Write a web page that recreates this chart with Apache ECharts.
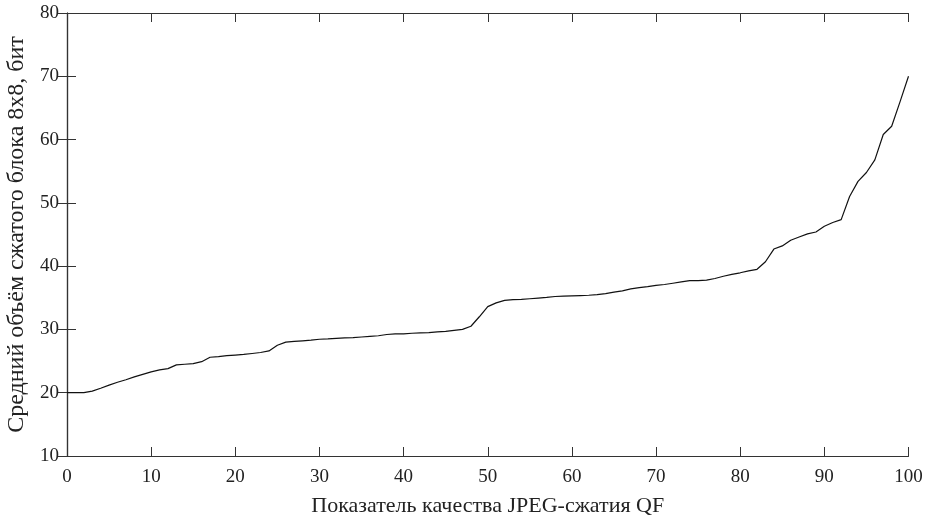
<!DOCTYPE html>
<html>
<head>
<meta charset="utf-8">
<script src="https://cdn.jsdelivr.net/npm/echarts@6/dist/echarts.min.js"></script>
<style>
  html, body { margin: 0; padding: 0; background: #fff; }
  #main { width: 925px; height: 518px; }
</style>
</head>
<body>
<div id="main"></div>
<script>
// Показатель качества QF (0..100)
var qf = [];
for (var i = 0; i <= 100; i++) qf.push(i);

// средний объём сжатого блока, бит
var avgBits = [
  20.0, 20.0, 20.0, 20.25, 20.7, 21.2, 21.65, 22.05, 22.5, 22.9,
  23.3, 23.6, 23.8, 24.4, 24.5, 24.6, 24.9, 25.6, 25.7, 25.85,
  25.95, 26.05, 26.2, 26.35, 26.6, 27.5, 28.0, 28.1, 28.2, 28.3,
  28.45, 28.5, 28.6, 28.65, 28.7, 28.8, 28.9, 29.0, 29.2, 29.3,
  29.3, 29.4, 29.45, 29.5, 29.6, 29.7, 29.85, 30.0, 30.5, 32.0,
  33.6, 34.2, 34.6, 34.7, 34.75, 34.85, 34.95, 35.05, 35.2, 35.25,
  35.3, 35.35, 35.4, 35.5, 35.65, 35.9, 36.1, 36.4, 36.6, 36.75,
  36.95, 37.1, 37.3, 37.5, 37.7, 37.7, 37.8, 38.05, 38.4, 38.7,
  38.95, 39.25, 39.5, 40.7, 42.7, 43.2, 44.1, 44.6, 45.1, 45.4,
  46.3, 46.9, 47.35, 51.0, 53.4, 54.8, 56.8, 60.8, 62.1, 66.0,
  70.0
];

var xName = 'Показатель качества JPEG-сжатия QF';
var yName = 'Средний объём сжатого блока 8x8, бит';

var myChart = echarts.init(document.getElementById('main'));
var font = 'Liberation Serif';
var axisCol = '#333';

var option = {
    animation: false,
    grid: { left: 67, right: 16.5, top: 13, bottom: 62, outerBoundsMode: 'none', containLabel: false },
    xAxis: [{
        type: 'value',
        min: 0, max: 100, interval: 10,
        name: xName,
        nameLocation: 'middle',
        nameGap: 39,
        nameTextStyle: { fontFamily: font, fontSize: 22, color: '#222' },
        axisLine: { lineStyle: { color: axisCol, width: 1.2 } },
        axisTick: { inside: true, length: 9, lineStyle: { color: axisCol } },
        axisLabel: { margin: 12, fontFamily: font, fontSize: 19, color: '#222' },
        splitLine: { show: false }
    }, {
        type: 'value',
        position: 'top',
        min: 0, max: 100, interval: 10,
        axisLine: { lineStyle: { color: axisCol, width: 1.2 } },
        axisTick: { inside: true, length: 9, lineStyle: { color: axisCol } },
        axisLabel: { show: false },
        splitLine: { show: false }
    }],
    yAxis: [{
        type: 'value',
        min: 10, max: 80, interval: 10,
        name: yName,
        nameLocation: 'middle',
        nameGap: 32,
        nameTextStyle: { fontFamily: font, fontSize: 24, color: '#222' },
        axisLine: { show: true, lineStyle: { color: axisCol, width: 1.2 } },
        axisTick: { show: true, inside: true, length: 9, lineStyle: { color: axisCol } },
        axisLabel: { margin: 8, fontFamily: font, fontSize: 19, color: '#222' },
        splitLine: { show: false }
    }, {
        type: 'value',
        position: 'right',
        min: 10, max: 80, interval: 10,
        axisLine: { show: true, lineStyle: { color: axisCol, width: 1.2 } },
        axisTick: { show: true, inside: true, length: 9, lineStyle: { color: axisCol } },
        axisLabel: { show: false },
        splitLine: { show: false }
    }],
    series: [{
        type: 'line',
        data: qf.map(function (q, i) { return [q, avgBits[i]]; }),
        showSymbol: false,
        lineStyle: { color: '#111', width: 1.2 }
    }]
};
myChart.setOption(option);
</script>
</body>
</html>
